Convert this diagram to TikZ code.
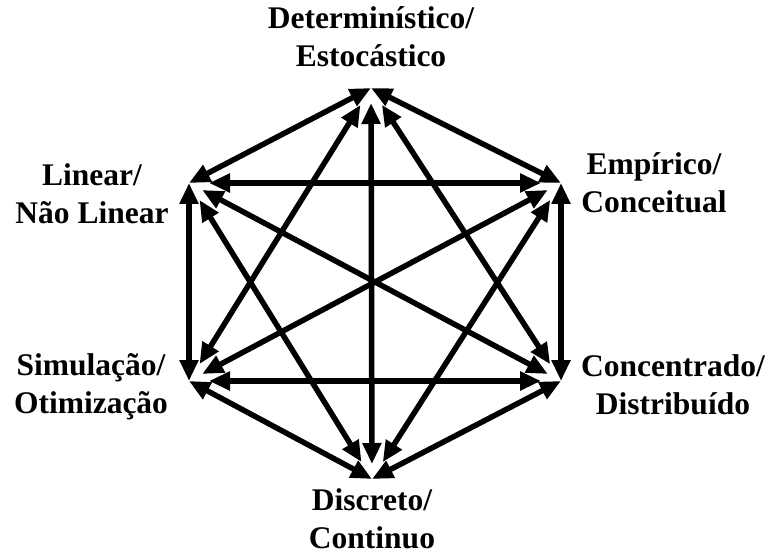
\documentclass[tikz,border=0pt]{standalone}
\usepackage{fontspec}
\setmainfont{Liberation Serif}
\usetikzlibrary{arrows.meta}
\begin{document}
\begin{tikzpicture}[x=1pt,y=-1pt,
  lbl/.style={font=\fontsize{31.5}{38}\selectfont\bfseries, align=center, inner sep=0pt, anchor=base},
  link/.style={line width=5.5pt, {Triangle[length=21pt,width=18pt]}-{Triangle[length=21pt,width=18pt]}},
  side/.style={link},
  shortdiag/.style={link, shorten <=20pt, shorten >=20pt},
  longdiag/.style={link, shorten <=15pt, shorten >=15pt}]
\useasboundingbox (0,0) rectangle (768,556);
% vertices
\coordinate (T) at (371,88);
\coordinate (UR) at (561,183);
\coordinate (LR) at (561,381);
\coordinate (B) at (372,479);
\coordinate (LL) at (189,381);
\coordinate (UL) at (189,183);
% labels (anchor = baseline of the last line)
\node[lbl] (lt) at (371,67) {Determinístico/\\Estocástico};
\node[lbl] (lur) at (654,213) {Empírico/\\Conceitual};
\node[lbl] (llr) at (673,414) {Concentrado/\\Distribuído};
\node[lbl] (lb) at (372,548) {Discreto/\\Continuo};
\node[lbl] (lll) at (91,413) {Simulação/\\Otimização};
\node[lbl] (lul) at (92,223) {Linear/\\Não Linear};
% sides
\draw[side] (T) -- (UR);
\draw[side] (UR) -- (LR);
\draw[side] (LR) -- (B);
\draw[side] (B) -- (LL);
\draw[side] (LL) -- (UL);
\draw[side] (UL) -- (T);
% short diagonals
\draw[shortdiag] (T) -- (LR);
\draw[shortdiag] (T) -- (LL);
\draw[shortdiag] (UR) -- (B);
\draw[shortdiag] (UR) -- (UL);
\draw[shortdiag] (LR) -- (LL);
\draw[shortdiag] (B) -- (UL);
% long diagonals
\draw[longdiag] (T) -- (B);
\draw[longdiag] (UR) -- (LL);
\draw[longdiag] (LR) -- (UL);
\end{tikzpicture}
\end{document}
